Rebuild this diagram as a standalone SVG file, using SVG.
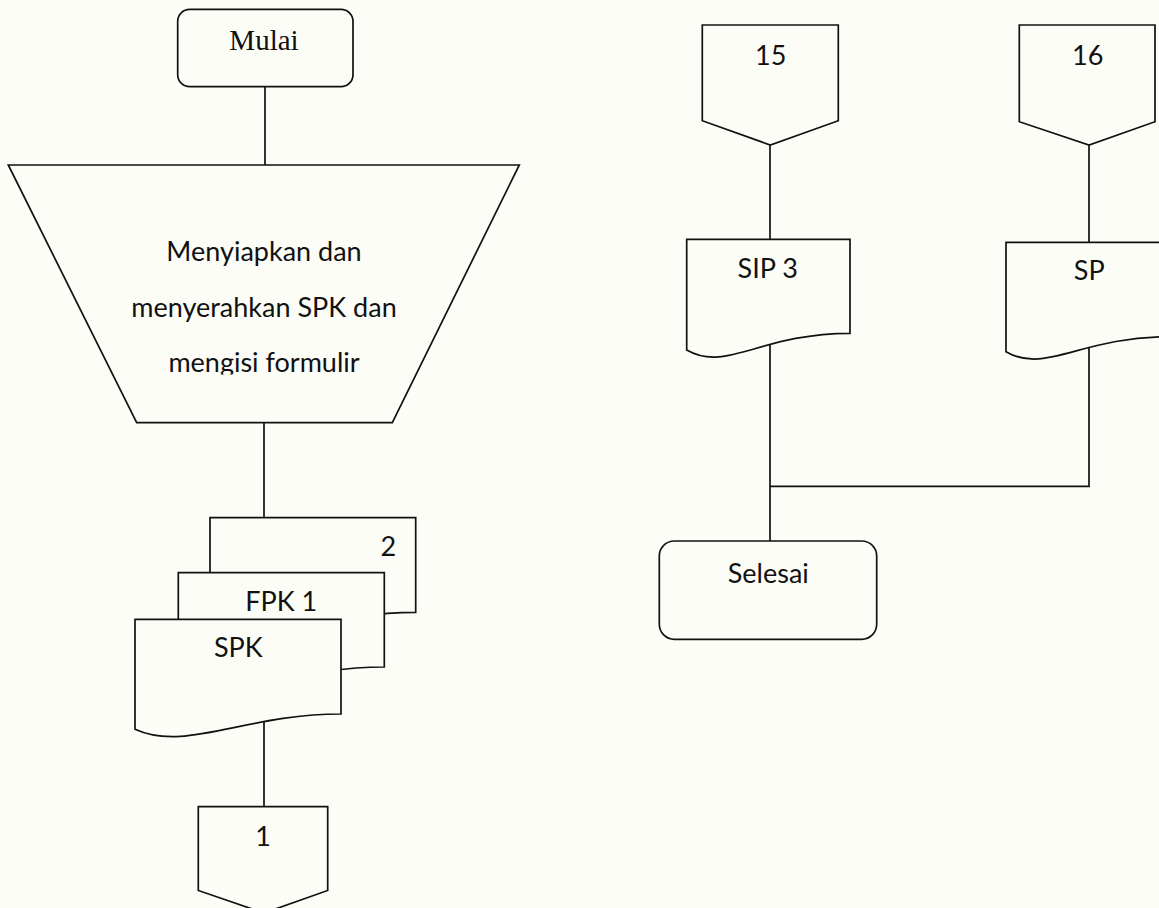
<svg xmlns="http://www.w3.org/2000/svg" width="1159" height="908" viewBox="0 0 1159 908">
  <style>
    .shape { fill: #fdfdf8; stroke: #111; stroke-width: 1.7; stroke-linejoin: miter; }
    .wire { fill: none; stroke: #111; stroke-width: 1.7; }
    .lbl { font-family: Lato, "Liberation Sans", sans-serif; font-size: 27px; fill: #111; text-anchor: middle; }
    .serif { font-family: "Liberation Serif", serif; font-size: 29px; fill: #111; text-anchor: middle; }
  </style>
  <defs>
    <clipPath id="procClip">
      <rect x="0" y="160" width="540" height="214.5"/>
    </clipPath>
  </defs>

  <rect x="0" y="0" width="1159" height="908" fill="#fdfdf8"/>

  <!-- connectors -->
  <g id="connectors">
    <line class="wire" x1="265" y1="86" x2="265" y2="165"/>
    <line class="wire" x1="264" y1="422" x2="264" y2="518"/>
    <line class="wire" x1="264" y1="715" x2="264" y2="807"/>
    <line class="wire" x1="770" y1="145" x2="770" y2="240"/>
    <line class="wire" x1="1089" y1="145" x2="1089" y2="243"/>
    <line class="wire" x1="770" y1="340" x2="770" y2="541"/>
    <polyline class="wire" points="1089,345 1089,486.3 770,486.3"/>
  </g>

  <!-- start terminator -->
  <g id="mulai">
    <rect class="shape" x="177.7" y="9.3" width="175.3" height="77.4" rx="12"/>
    <text class="serif" x="264" y="50">Mulai</text>
  </g>

  <!-- manual operation -->
  <g id="menyiapkan">
    <polygon class="shape" points="8.3,165 519.3,165 392.3,422.7 136.7,422.7"/>
    <g clip-path="url(#procClip)">
      <text class="lbl" x="264" y="260.7">Menyiapkan dan</text>
      <text class="lbl" x="264" y="316.8">menyerahkan SPK dan</text>
      <text class="lbl" x="264" y="371.9">mengisi formulir</text>
    </g>
  </g>

  <!-- stacked documents -->
  <g id="doc-2">
    <path class="shape" d="M210,517.7 H415.7 V612.3 C320,612.3 260,650.6 210,627.6 Z"/>
    <text class="lbl" x="388.3" y="556">2</text>
  </g>
  <g id="doc-fpk1">
    <path class="shape" d="M178.3,572.7 H384.3 V667 C288.3,667 228.3,705.3 178.3,682.3 Z"/>
    <text class="lbl" x="281.3" y="610.7">FPK 1</text>
  </g>
  <g id="doc-spk">
    <path class="shape" d="M135,619.3 H341 V714 C245,714 185,752.3 135,729.3 Z"/>
    <text class="lbl" x="238.3" y="657.3">SPK</text>
  </g>

  <!-- off-page connector 1 -->
  <g id="off-1">
    <polygon class="shape" points="198.3,806.7 327.7,806.7 327.7,890.5 264,913 198.3,890.5"/>
    <text class="lbl" x="263" y="846">1</text>
  </g>

  <!-- off-page connectors 15 and 16 -->
  <g id="off-15">
    <polygon class="shape" points="702.3,25 838.3,25 838.3,120.7 770.3,145 702.3,120.7"/>
    <text class="lbl" x="770.7" y="65">15</text>
  </g>
  <g id="off-16">
    <polygon class="shape" points="1019.3,25 1155,25 1155,121.7 1089,145 1019.3,121.7"/>
    <text class="lbl" x="1087.7" y="65">16</text>
  </g>

  <!-- documents SIP 3 and SP -->
  <g id="doc-sip3">
    <path class="shape" d="M686.7,239.3 H850 V333.3 C760,333.3 726.4,373 686.7,350 Z"/>
    <text class="lbl" x="767.7" y="278.3">SIP 3</text>
  </g>
  <g id="doc-sp">
    <path class="shape" d="M1006,242.3 H1169.3 V336.7 C1080,336.7 1045.7,374.7 1006,351.7 Z"/>
    <text class="lbl" x="1089.3" y="280">SP</text>
  </g>

  <!-- end terminator -->
  <g id="selesai">
    <rect class="shape" x="659.3" y="541" width="217.4" height="98.3" rx="15"/>
    <text class="lbl" x="768.3" y="583.3">Selesai</text>
  </g>
</svg>
